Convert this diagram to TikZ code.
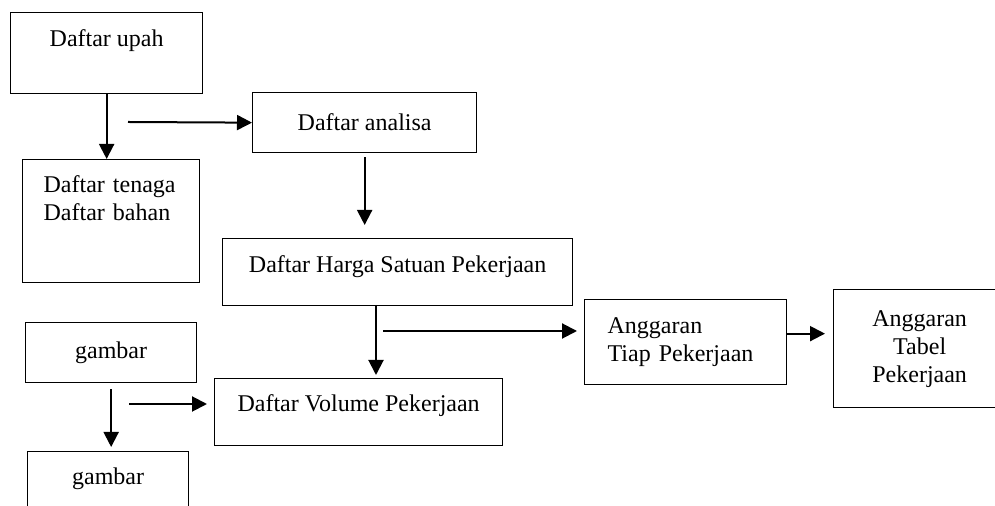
\documentclass[tikz,border=0pt]{standalone}
\usepackage{fontspec}
\setmainfont{Liberation Serif}
\usetikzlibrary{arrows.meta,positioning}

\begin{document}
\begin{tikzpicture}[x=0.5pt,y=-0.5pt,
  boxstyle/.style={draw=black,line width=0.65pt,inner sep=0pt,anchor=north west,font=\fontsize{12}{14}\selectfont},
  arrowstyle/.style={line width=1pt,-{Triangle[length=7.5pt,width=7.5pt]}}]

\useasboundingbox (0,0) rectangle (995,506);

\node[boxstyle,minimum width=96pt,text height=17pt,text depth=23.5pt] (upah) at (10,12) {Daftar upah};
\node[boxstyle,minimum width=88.5pt,text width=67.5pt,text height=16.5pt,text depth=45pt,align=left] (tenaga) at (22,159) {Daftar tenaga\\Daftar bahan};
\node[boxstyle,minimum width=112pt,minimum height=30pt] (analisa) at (252,92) {Daftar analisa};
\node[boxstyle,minimum width=175pt,text height=17pt,text depth=16.5pt] (harga) at (222,238) {Daftar Harga Satuan Pekerjaan};

\node[boxstyle,minimum width=85.5pt,minimum height=30pt] (gambar1) at (25,322) {gambar};
\node[boxstyle,minimum width=144pt,text height=16.5pt,text depth=17pt] (volume) at (214,378) {Daftar Volume Pekerjaan};
\node[boxstyle,minimum width=80.5pt,text height=16.5pt,text depth=23.5pt] (gambar2) at (27,451) {gambar};

\node[boxstyle,minimum width=101pt,minimum height=42.5pt,text width=78pt,align=left] (tiap) at (584,299) {Anggaran\\Tiap Pekerjaan};
\node[boxstyle,minimum width=86pt,minimum height=59pt,align=center] (tabel) at (833,289) {Anggaran\\Tabel\\Pekerjaan};

\coordinate (feedA) at (128,122);
\coordinate (split) at (376,305);
\coordinate (feedB) at (383,331);
\coordinate (feedC) at (129,404);

\draw[arrowstyle] (upah.south) -- (upah.south |- tenaga.north);
\draw[arrowstyle] (feedA) -- (analisa.west);
\draw[arrowstyle,shorten <=2pt,shorten >=6.5pt] (analisa.south) -- (analisa.south |- harga.north);
\draw[arrowstyle,shorten >=1.5pt] (split) -- (split |- volume.north);
\draw[arrowstyle,shorten >=3.5pt] (feedB) -- (feedB -| tiap.west);
\draw[arrowstyle,shorten >=4pt] ([yshift=4.25pt]tiap.east) -- ([yshift=4.25pt]tiap.east -| tabel.west);
\draw[arrowstyle,shorten <=3pt,shorten >=2pt] (gambar1.south) -- (gambar1.south |- gambar2.north);
\draw[arrowstyle,shorten >=3.5pt] (feedC) -- (feedC -| volume.west);

\end{tikzpicture}
\end{document}
